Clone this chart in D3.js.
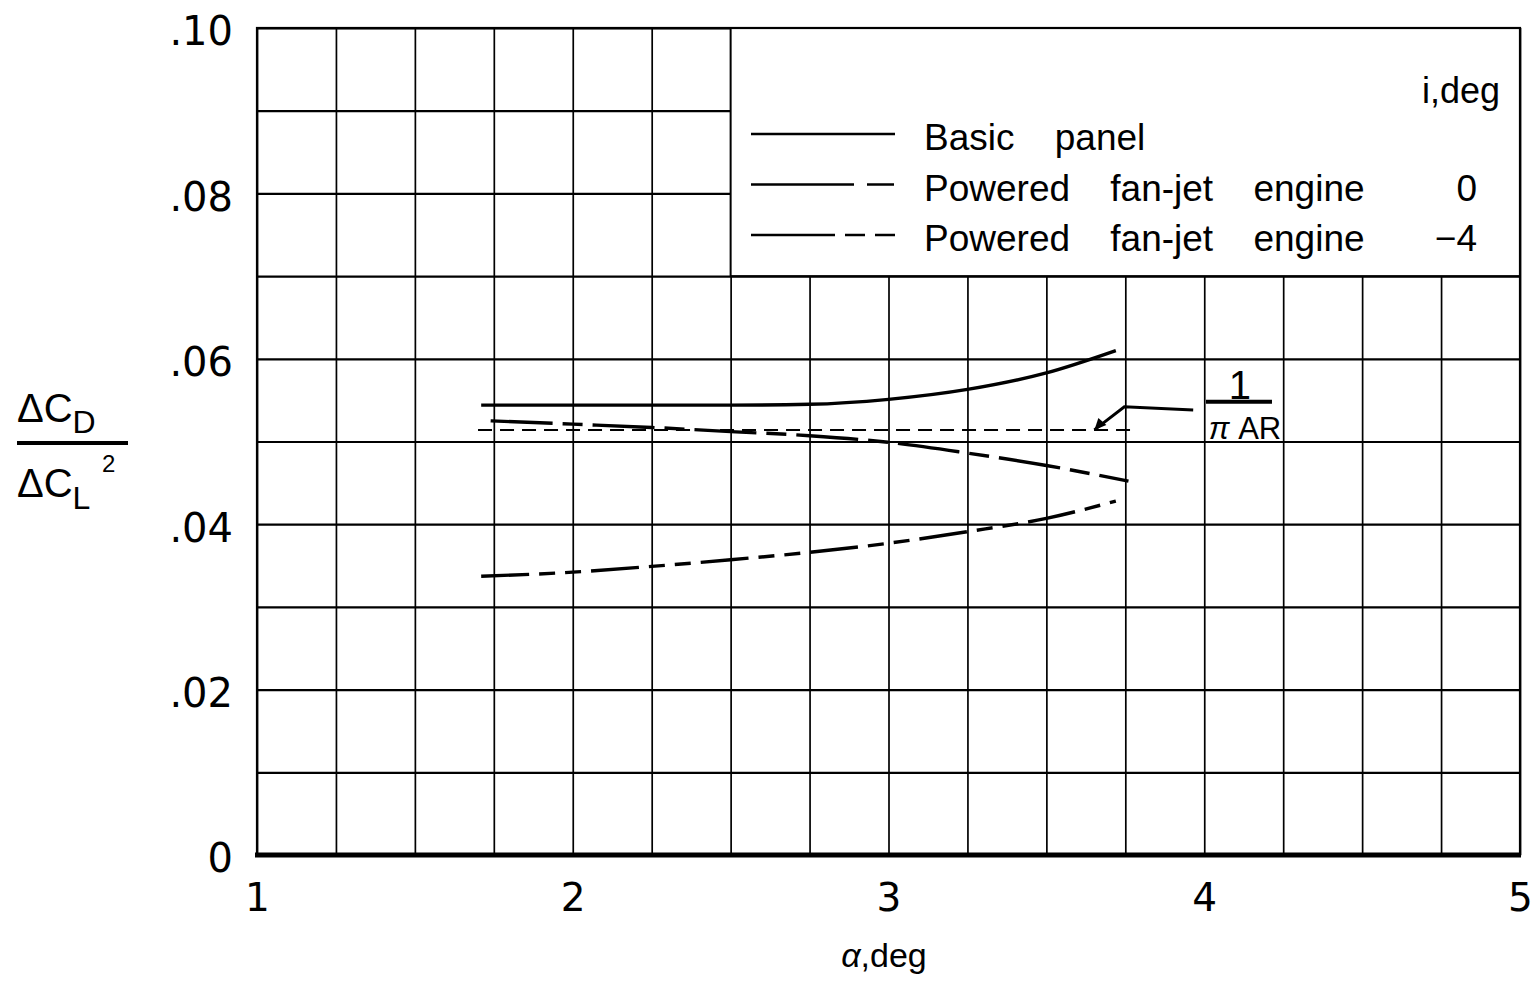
<!DOCTYPE html>
<html>
<head>
<meta charset="utf-8">
<script src="https://cdn.jsdelivr.net/npm/d3@7"></script>
<style>
  body { margin: 0; background: #fff; }
  svg { display: block; }
  text { font-family: "Liberation Sans", Arial, sans-serif; fill: #000; }
  .tick text { font-family: "DejaVu Sans", sans-serif; }
</style>
</head>
<body>
<svg id="chart" width="1535" height="983"></svg>
<script>
// angle of attack, deg
var alphaBasic = [1.71, 2.0, 2.25, 2.5, 2.75, 3.0, 3.25, 3.5, 3.72];
var basicPanel = [.0544, .0544, .0544, .0544, .0545, .0551, .0563, .0583, .0610];

var alphaFan0 = [1.74, 2.0, 2.25, 2.5, 2.75, 3.0, 3.25, 3.5, 3.76];
var fanJet0 = [.0525, .0521, .0517, .0512, .0507, .0499, .0486, .0471, .0452];

var alphaFan4 = [1.71, 2.0, 2.25, 2.5, 2.75, 3.0, 3.25, 3.5, 3.72];
var fanJetM4 = [.0337, .0342, .0349, .0357, .0366, .0377, .0391, .0407, .0428];

// 1/(pi AR) reference
var alphaRef = [1.70, 3.78];
var refValue = [.0514, .0514];
var leaderX = [3.652, 3.747, 3.965];
var leaderY = [.0514, .0542, .0538];

var xTicks = [1, 2, 3, 4, 5];
var yTicks = [0, .02, .04, .06, .08, .10];
var yTickLabels = ["0", ".02", ".04", ".06", ".08", ".10"];

var legendLabels = ["Basic panel", "Powered fan-jet engine", "Powered fan-jet engine"];
var legendIncidence = ["", "0", "\u22124"];

var svg = d3.select("#chart");
svg.append("rect").attr("width", 1535).attr("height", 983).attr("fill", "#fff");

var x = d3.scaleLinear().domain([1, 5]).range([257, 1520]);
var y = d3.scaleLinear().domain([0, .10]).range([855, 28]);

// grid
var xGrid = d3.range(1, 5.001, 0.25);
var yGrid = d3.range(0, 0.1001, 0.01);

svg.append("g")
  .attr("transform", "translate(0," + y(0) + ")")
  .call(d3.axisBottom(x).tickValues(xGrid).tickSize(-(y(0) - y(.10))).tickFormat(""))
  .call(function(g){ g.select(".domain").remove(); })
  .selectAll("line").attr("stroke", "#000").attr("stroke-width", 1.7);

svg.append("g")
  .attr("transform", "translate(" + x(1) + ",0)")
  .call(d3.axisLeft(y).tickValues(yGrid).tickSize(-(x(5) - x(1))).tickFormat(""))
  .call(function(g){ g.select(".domain").remove(); })
  .selectAll("line").attr("stroke", "#000").attr("stroke-width", 2.2);

// legend panel blanks the upper right cells
svg.append("rect")
  .attr("x", x(2.5)).attr("y", y(.10))
  .attr("width", x(5) - x(2.5)).attr("height", y(.07) - y(.10))
  .attr("fill", "#fff").attr("stroke", "#000").attr("stroke-width", 2);

// frame
svg.append("rect")
  .attr("x", x(1)).attr("y", y(.10))
  .attr("width", x(5) - x(1)).attr("height", y(0) - y(.10))
  .attr("fill", "none").attr("stroke", "#000").attr("stroke-width", 2.2);
svg.append("line")
  .attr("x1", x(1) - 2).attr("x2", x(5) + 1)
  .attr("y1", y(0)).attr("y2", y(0))
  .attr("stroke", "#000").attr("stroke-width", 5);

// tick labels
svg.append("g")
  .attr("transform", "translate(0," + (y(0) + 48) + ")")
  .call(d3.axisBottom(x).tickValues(xTicks).tickSize(0).tickPadding(0).tickFormat(d3.format("d")))
  .call(function(g){ g.select(".domain").remove(); })
  .selectAll("text")
  .attr("font-size", 39).attr("fill", "#000").attr("dy", "0.2em");

svg.append("g")
  .attr("transform", "translate(" + (x(1) - 24) + ",4)")
  .call(d3.axisLeft(y).tickValues(yTicks).tickSize(0).tickPadding(0)
    .tickFormat(function(d, i){ return yTickLabels[i]; }))
  .call(function(g){ g.select(".domain").remove(); })
  .selectAll("text")
  .attr("font-size", 40).attr("fill", "#000");

// axis titles
var xt = svg.append("text").attr("x", 884).attr("y", 967)
  .attr("text-anchor", "middle").attr("font-size", 34);
xt.append("tspan").attr("font-style", "italic").text("\u03b1");
xt.append("tspan").text(",deg");

var yl = svg.append("g");
var num = yl.append("text").attr("x", 17).attr("y", 422).attr("font-size", 40);
num.append("tspan").text("\u0394C");
num.append("tspan").attr("font-size", 32).attr("dy", 11).text("D");
yl.append("line").attr("x1", 17).attr("x2", 128).attr("y1", 443).attr("y2", 443)
  .attr("stroke", "#000").attr("stroke-width", 4);
var den = yl.append("text").attr("x", 17).attr("y", 497).attr("font-size", 40);
den.append("tspan").text("\u0394C");
den.append("tspan").attr("font-size", 32).attr("dy", 12).text("L");
yl.append("text").attr("x", 102).attr("y", 472).attr("font-size", 24).text("2");

// curves
var line = d3.line()
  .x(function(d){ return x(d[0]); })
  .y(function(d){ return y(d[1]); })
  .curve(d3.curveMonotoneX);

var series = [
  { a: alphaBasic, v: basicPanel, dash: null },
  { a: alphaFan0, v: fanJet0, dash: "62,10,20,10" },
  { a: alphaFan4, v: fanJetM4, dash: "48,10,16,10,16,10" }
];

svg.selectAll("path.curve")
  .data(series)
  .enter()
  .append("path")
  .attr("class", "curve")
  .attr("d", function(s){ return line(d3.zip(s.a, s.v)); })
  .attr("fill", "none")
  .attr("stroke", "#000")
  .attr("stroke-width", 3.4)
  .attr("stroke-dasharray", function(s){ return s.dash; });

svg.append("path")
  .attr("d", d3.line()(d3.zip(alphaRef.map(x), refValue.map(y))))
  .attr("fill", "none").attr("stroke", "#000")
  .attr("stroke-width", 2).attr("stroke-dasharray", "14,8");

// 1/(pi AR) leader and label
svg.append("path")
  .attr("d", d3.line()(d3.zip(leaderX.map(x), leaderY.map(y))))
  .attr("fill", "none").attr("stroke", "#000").attr("stroke-width", 3);
var lx = x(leaderX[0]), ly = y(leaderY[0]);
svg.append("path")
  .attr("d", "M" + lx + "," + ly + "L" + (lx + 4) + "," + (ly - 12) + "L" + (lx + 12) + "," + (ly - 5) + "Z")
  .attr("fill", "#000");

var fx = x(4.11), fy = y(.0548);
svg.append("line").attr("x1", fx - 33).attr("x2", fx + 33).attr("y1", fy).attr("y2", fy)
  .attr("stroke", "#000").attr("stroke-width", 4);
svg.append("text").attr("x", fx + 1).attr("y", fy - 3).attr("text-anchor", "middle")
  .attr("font-size", 40).text("1");
var pa = svg.append("text").attr("x", fx + 6).attr("y", fy + 37).attr("text-anchor", "middle")
  .attr("font-size", 31);
pa.append("tspan").attr("font-style", "italic").text("\u03c0");
pa.append("tspan").text(" AR");

// legend
svg.append("text").attr("x", 1500).attr("y", 103).attr("text-anchor", "end")
  .attr("font-size", 36).text("i,deg");

var legendDash = [null, "103,13,27", "84,10,20,10,21"];
legendLabels.forEach(function(label, i){
  var ry = 134 + i * 50.5;
  svg.append("line")
    .attr("x1", 751).attr("x2", 895).attr("y1", ry).attr("y2", ry)
    .attr("stroke", "#000").attr("stroke-width", 2.6)
    .attr("stroke-dasharray", legendDash[i]);
  svg.append("text").attr("x", 924).attr("y", ry + 16)
    .attr("font-size", 37).attr("word-spacing", 30).text(label);
  svg.append("text").attr("x", 1477).attr("y", ry + 16).attr("text-anchor", "end")
    .attr("font-size", 37).text(legendIncidence[i]);
});
</script>
</body>
</html>
